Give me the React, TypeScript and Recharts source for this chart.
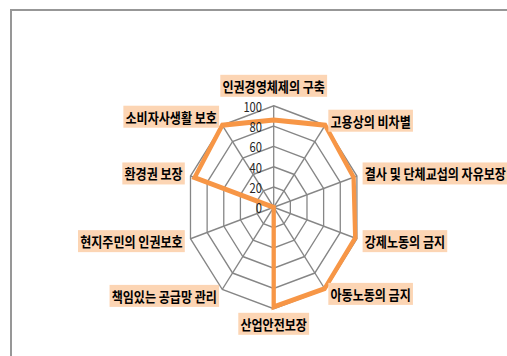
import React, { useLayoutEffect, useRef, useState } from 'react';
import { RadarChart, Radar, PolarGrid, PolarAngleAxis, PolarRadiusAxis } from 'recharts';

const categories = [
  '인권경영체제의 구축',
  '고용상의 비차별',
  '결사 및 단체교섭의 자유보장',
  '강제노동의 금지',
  '아동노동의 금지',
  '산업안전보장',
  '책임있는 공급망 관리',
  '현지주민의 인권보호',
  '환경권 보장',
  '소비자사생활 보호',
];
const scores = [86, 100, 96, 98, 99, 98, 0, 0, 95, 100];
const radiusDomain = [0, 100];
const radiusTickCount = 6;

const data = categories.map((category, i) => ({ category, score: scores[i] }));

const PAGE_W = 507;
const PAGE_H = 356;
const CHART_W = 620;
const CX = 273.7;
const CY = 207.3;
const R = 101.5;
const SX = 0.862;
const FONT = '"Noto Sans CJK KR", "Noto Sans", sans-serif';

function AngleTick(props: any) {
  const { x, y, payload, textAnchor } = props;
  const ref = useRef<SVGTextElement>(null);
  const [w, setW] = useState(0);
  useLayoutEffect(() => {
    if (ref.current) setW(ref.current.getBBox().width);
  }, [payload.value]);
  const fs = 14;
  const h = 22;
  const padX = 2.5;
  const angle = Math.round(payload.coordinate);
  let cyText = y;
  if (angle === 90) cyText = y - 1 - h / 2;
  else if (angle === -90) cyText = y - 4 + h / 2;
  else if (angle === 54 || angle === 126) cyText = y + 2;
  else if (angle === -54 || angle === -234) cyText = y - 2;
  let rectX: number;
  let tx: number;
  if (textAnchor === 'start') {
    rectX = x - 1;
    tx = rectX + padX;
  } else if (textAnchor === 'end') {
    rectX = x + 1 - w - 2 * padX;
    tx = rectX + padX;
  } else {
    rectX = x - w / 2 - padX;
    tx = rectX + padX;
  }
  return (
    <g>
      {w > 0 && (
        <rect x={rectX} y={cyText - h / 2} width={w + 2 * padX} height={h} fill="#FCD5B4" />
      )}
      <text
        ref={ref}
        x={tx}
        y={cyText}
        dominantBaseline="central"
        textAnchor="start"
        fontFamily={FONT}
        fontSize={fs}
        fontWeight={600}
        fill="#000"
      >
        {payload.value}
      </text>
    </g>
  );
}

function RadiusTick(props: any) {
  const { x, y, payload } = props;
  return (
    <text
      x={x - 13.5}
      y={y}
      dominantBaseline="central"
      textAnchor="end"
      fontFamily={FONT}
      fontSize={13}
      fill="#262626"
    >
      {payload.value}
    </text>
  );
}

export default function App() {
  return (
    <div
      style={{
        position: 'absolute',
        left: 0,
        top: 0,
        width: PAGE_W,
        height: PAGE_H,
        overflow: 'hidden',
        background: '#fff',
      }}
    >
      <div
        style={{
          position: 'absolute',
          left: 10,
          top: 9,
          width: PAGE_W + 20,
          height: PAGE_H + 20,
          borderLeft: '2px solid #979797',
          borderTop: '2px solid #979797',
        }}
      />
      <div
        style={{
          position: 'absolute',
          left: 0,
          top: 0,
          transform: `scaleX(${SX})`,
          transformOrigin: `${CX}px 0px`,
        }}
      >
        <RadarChart
          width={CHART_W}
          height={PAGE_H}
          data={data}
          cx={CX}
          cy={CY}
          outerRadius={R}
          startAngle={90}
          endAngle={-270}
        >
          <PolarGrid gridType="polygon" stroke="#868686" strokeWidth={1.5} />
          <PolarAngleAxis
            dataKey="category"
            tick={<AngleTick />}
            tickLine={false}
            axisLine={false}
          />
          <PolarRadiusAxis
            angle={90}
            domain={radiusDomain}
            tickCount={radiusTickCount}
            axisLine={false}
            tickLine={false}
            tick={<RadiusTick />}
          />
          <Radar
            dataKey="score"
            stroke="#F79646"
            strokeWidth={5}
            fill="none"
            fillOpacity={0}
            dot={false}
            isAnimationActive={false}
          />
        </RadarChart>
      </div>
    </div>
  );
}
